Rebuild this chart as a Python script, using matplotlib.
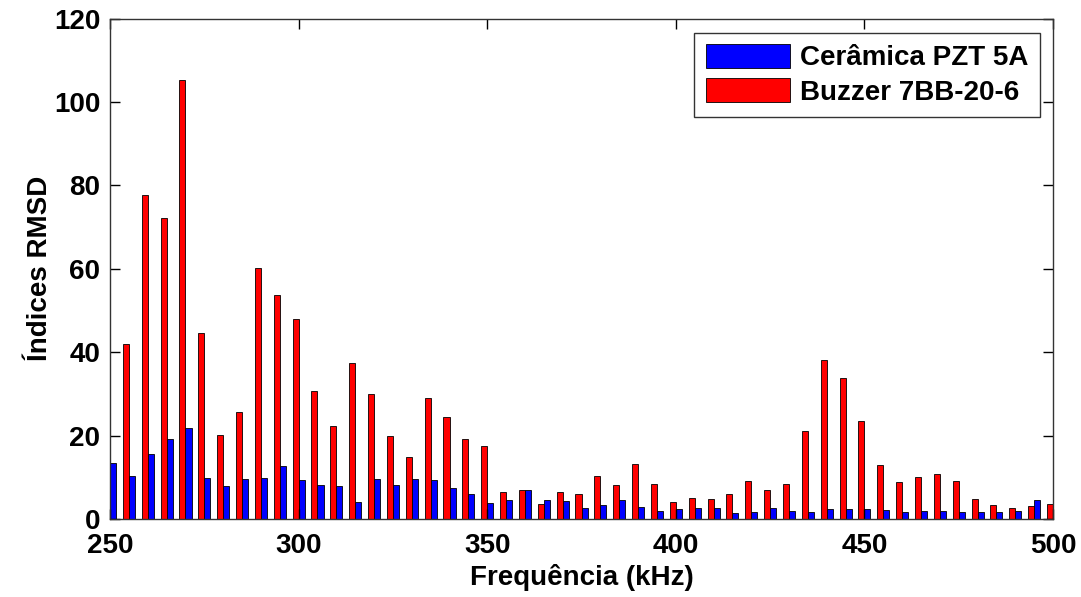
import numpy as np
import matplotlib
matplotlib.use("Agg")
import matplotlib.pyplot as plt

plt.rcParams['font.family'] = ['Liberation Sans', 'DejaVu Sans']

freqs = list(range(250, 505, 5))

# Cerâmica PZT 5A (blue)
ceramica = [13.4, 10.2, 15.5, 19.1, 21.9, 9.8, 7.9, 9.5, 9.8, 12.7,
            9.3, 8.2, 7.8, 4.0, 9.6, 8.1, 9.7, 9.4, 7.5, 6.1,
            3.8, 4.5, 7.0, 4.6, 4.2, 2.6, 3.4, 4.5, 2.8, 2.0,
            2.4, 2.6, 2.6, 1.4, 1.7, 2.6, 2.0, 1.7, 2.5, 2.3,
            2.3, 2.2, 1.7, 1.8, 1.8, 1.6, 1.6, 1.7, 2.0, 4.6,
            np.nan]

# Buzzer 7BB-20-6 (red)
buzzer = [np.nan, 42.0, 77.6, 72.2, 105.3, 44.5, 20.2, 25.6, 60.1, 53.8,
          47.9, 30.7, 22.4, 37.4, 30.0, 19.8, 14.9, 29.1, 24.4, 19.3,
          17.6, 6.4, 7.0, 3.6, 6.4, 5.9, 10.4, 8.2, 13.1, 8.5,
          4.1, 5.0, 4.9, 5.9, 9.0, 7.0, 8.4, 21.1, 38.1, 33.8,
          23.4, 13.0, 8.8, 10.1, 10.9, 9.2, 4.7, 3.4, 2.6, 3.0,
          3.6]

labels = ['Cerâmica PZT 5A', 'Buzzer 7BB-20-6']
xticks = [250, 300, 350, 400, 450, 500]
yticks = [0, 20, 40, 60, 80, 100, 120]

FS = 20

fig = plt.figure(figsize=(10.81, 5.97), dpi=100)
ax = fig.add_axes([0.1018, 0.1307, 0.8723, 0.8380])

x = np.array(freqs, dtype=float)
w = 1.6
ax.bar(x, ceramica, width=w, align='edge', color='#0000FF',
       edgecolor='black', linewidth=0.6, label=labels[0])
ax.bar(x - w, buzzer, width=w, align='edge', color='#FF0000',
       edgecolor='black', linewidth=0.6, label=labels[1])

ax.set_xlim(250, 500)
ax.set_ylim(0, 120)
ax.set_xticks(xticks)
ax.set_yticks(yticks)
ax.tick_params(direction='in', length=7, width=1, top=True, right=True,
               labelsize=FS)
ax.tick_params(axis='x', pad=10)
ax.tick_params(axis='y', pad=7)
for lab in ax.get_xticklabels() + ax.get_yticklabels():
    lab.set_fontweight('bold')
for s in ax.spines.values():
    s.set_linewidth(1)
    s.set_color('#333333')

ax.set_xlabel('Frequência (kHz)', fontsize=FS, fontweight='bold', labelpad=4)
ax.set_ylabel('Índices RMSD', fontsize=FS, fontweight='bold', labelpad=1)

leg = ax.legend(loc='upper right', bbox_to_anchor=(0.986, 0.972),
                prop={'weight': 'bold', 'size': FS},
                frameon=True, fancybox=False, edgecolor='black',
                handlelength=3.05, handleheight=0.95, handletextpad=0.36,
                borderpad=0.4, labelspacing=0.25, borderaxespad=0)
leg.get_frame().set_linewidth(1)

fig.savefig('out.png', dpi=100)
